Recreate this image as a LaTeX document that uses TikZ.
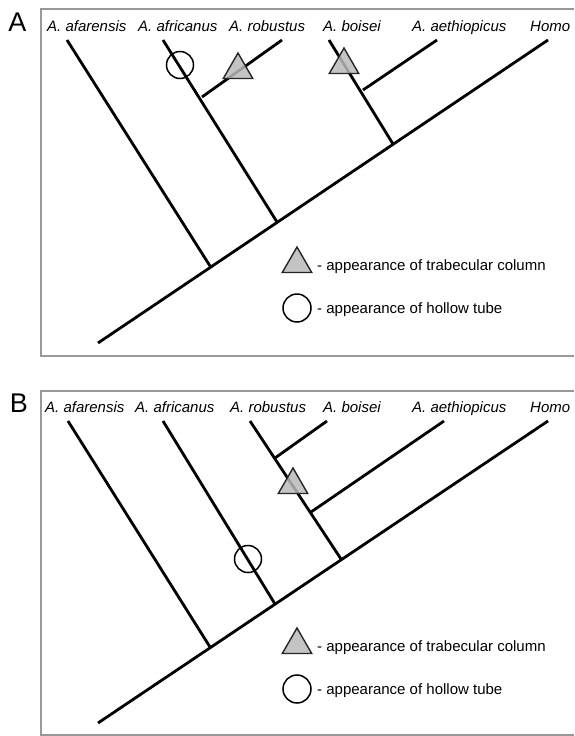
\documentclass[tikz,border=0pt]{standalone}
\usepackage{fontspec}
\setmainfont{Liberation Sans}
\usetikzlibrary{shapes.geometric}
\begin{document}
\begin{tikzpicture}[x=1pt,y=-1pt,
  branch/.style={line width=2.8pt},
  frame/.style={draw=black!40,line width=1.1pt},
  taxon/.style={anchor=base west,inner sep=0,font=\fontsize{15}{18}\selectfont\itshape},
  legtext/.style={anchor=base west,inner sep=0,font=\fontsize{15}{18}\selectfont},
  panel/.style={inner sep=0,font=\fontsize{27}{30}\selectfont},
  trab/.style={regular polygon,regular polygon sides=3,minimum size=34pt,inner sep=0,draw=black!85,line width=1.4pt,fill=black!27,fill opacity=0.85},
  hollow/.style={circle,minimum size=27pt,inner sep=0,draw,line width=1.5pt},
  legcirc/.style={hollow,minimum size=28pt},
]
\useasboundingbox (0,0) rectangle (574,736);

% ---------------- Panel A ----------------
\draw[frame] (574,9) -- (41,9) -- (41,356) -- (574,356);
\node[panel] (labA) at (17.5,22) {A};
\node[taxon] (tAafa) at (47,31) {A. afarensis};
\node[taxon] (tAafr) at (138,31) {A. africanus};
\node[taxon] (tArob) at (229,31) {A. robustus};
\node[taxon] (tAboi) at (323,31) {A. boisei};
\node[taxon] (tAaet) at (412,31) {A. aethiopicus};
\node[taxon] (tAhom) at (530,31) {Homo};

\coordinate (aAfa) at (67,40);
\coordinate (aAfr) at (163,40);
\coordinate (aRob) at (282,40);
\coordinate (aBoi) at (329,40);
\coordinate (aAet) at (437,40);
\coordinate (aHom) at (548,40);
\coordinate (aRoot) at (98,343);
\coordinate (aJ1) at (210,266);
\coordinate (aJ2) at (277,222);
\coordinate (aJ3) at (393,144);
\coordinate (aJr) at (202,97);
\coordinate (aJb) at (363,90);

\draw[branch] (aRoot) -- (aHom);
\draw[branch] (aAfa) -- (aJ1);
\draw[branch] (aAfr) -- (aJ2);
\draw[branch] (aRob) -- (aJr);
\draw[branch] (aBoi) -- (aJ3);
\draw[branch] (aAet) -- (aJb);

\node[hollow] (aCirc) at (180,65) {};
\node[trab] (aTri1) at (238,70) {};
\node[trab] (aTri2) at (344,65) {};

\node[trab] (aLegTri) at (297,264) {};
\node[legtext] (aLegT1) at (317,270) {- appearance of trabecular column};
\node[legcirc] (aLegCirc) at (297,308) {};
\node[legtext] (aLegT2) at (317,313) {- appearance of hollow tube};

% ---------------- Panel B ----------------
\draw[frame] (574,391) -- (41,391) -- (41,735) -- (574,735);
\node[panel] (labB) at (19,403) {B};
\node[taxon] (tBafa) at (45,412) {A. afarensis};
\node[taxon] (tBafr) at (135,412) {A. africanus};
\node[taxon] (tBrob) at (230,412) {A. robustus};
\node[taxon] (tBboi) at (323,412) {A. boisei};
\node[taxon] (tBaet) at (412,412) {A. aethiopicus};
\node[taxon] (tBhom) at (530,412) {Homo};

\coordinate (bAfa) at (68,421);
\coordinate (bAfr) at (163,421);
\coordinate (bRob) at (250,421);
\coordinate (bBoi) at (327,421);
\coordinate (bAet) at (444,421);
\coordinate (bHom) at (548,421);
\coordinate (bRoot) at (98,723);
\coordinate (bJ1) at (210,647);
\coordinate (bJ2) at (275,604);
\coordinate (bJ3) at (341,559);
\coordinate (bJb) at (275,458);
\coordinate (bJa) at (311,512);

\draw[branch] (bRoot) -- (bHom);
\draw[branch] (bAfa) -- (bJ1);
\draw[branch] (bAfr) -- (bJ2);
\draw[branch] (bRob) -- (bJ3);
\draw[branch] (bBoi) -- (bJb);
\draw[branch] (bAet) -- (bJa);

\node[hollow] (bCirc) at (248,559) {};
\node[trab] (bTri) at (293,485) {};

\node[trab] (bLegTri) at (297,645) {};
\node[legtext] (bLegT1) at (317,651) {- appearance of trabecular column};
\node[legcirc] (bLegCirc) at (297,689) {};
\node[legtext] (bLegT2) at (317,694) {- appearance of hollow tube};
\end{tikzpicture}
\end{document}
